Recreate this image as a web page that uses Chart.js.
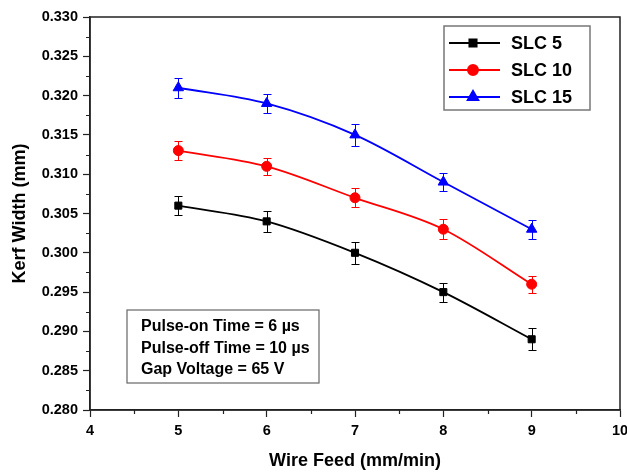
<!DOCTYPE html>
<html>
<head>
<meta charset="utf-8">
<script src="https://cdn.jsdelivr.net/npm/chart.js@4/dist/chart.umd.min.js"></script>
<style>
  html, body { margin: 0; padding: 0; background: #fff; }
  #wrap { width: 627px; height: 476px; position: relative; }
</style>
</head>
<body>
<div id="wrap"><canvas id="chart"></canvas></div>
<script>
  // ── data ──────────────────────────────────────────────
  const wireFeed = [5, 6, 7, 8, 9];
  const slc5 = [0.306, 0.304, 0.300, 0.295, 0.289];
  const slc10 = [0.313, 0.311, 0.307, 0.303, 0.296];
  const slc15 = [0.321, 0.319, 0.315, 0.309, 0.303];
  const slc5Err = [0.0012, 0.0013, 0.0014, 0.0012, 0.0014];
  const slc10Err = [0.0012, 0.0011, 0.0012, 0.0013, 0.0011];
  const slc15Err = [0.0013, 0.0012, 0.0014, 0.0011, 0.0012];
  const noteLines = ['Pulse-on Time = 6 \u00b5s', 'Pulse-off Time = 10 \u00b5s', 'Gap Voltage = 65 V'];

  const FONT = '"Liberation Sans", Arial, sans-serif';

  function series(label, values, errs, color, pointStyle, radius) {
    return {
      label,
      data: wireFeed.map((x, i) => ({ x, y: values[i] })),
      errors: errs,
      borderColor: color,
      backgroundColor: color,
      borderWidth: 1.8,
      pointStyle,
      pointRadius: radius,
      pointBorderWidth: 1,
      cubicInterpolationMode: 'monotone',
      fill: false,
    };
  }

  // ── error bars ─────────────────────────────────────────
  const errorBars = {
    id: 'errorBars',
    afterDatasetsDraw(chart) {
      const { ctx, scales: { x, y } } = chart;
      ctx.save();
      chart.data.datasets.forEach(ds => {
        ctx.strokeStyle = ds.borderColor;
        ctx.lineWidth = 1;
        ds.data.forEach((p, i) => {
          const px = Math.round(x.getPixelForValue(p.x)) + 0.5;
          const y1 = Math.round(y.getPixelForValue(p.y + ds.errors[i])) + 0.5;
          const y2 = Math.round(y.getPixelForValue(p.y - ds.errors[i])) + 0.5;
          ctx.beginPath();
          ctx.moveTo(px, y1); ctx.lineTo(px, y2);
          ctx.moveTo(px - 4, y1); ctx.lineTo(px + 4, y1);
          ctx.moveTo(px - 4, y2); ctx.lineTo(px + 4, y2);
          ctx.stroke();
        });
      });
      ctx.restore();
    },
  };

  // ── frame, minor ticks, legend and note box ────────────
  const decorations = {
    id: 'decorations',
    afterDraw(chart) {
      const { ctx, chartArea: a, scales: { x, y } } = chart;
      ctx.save();
      ctx.strokeStyle = '#222';
      ctx.lineWidth = 1.5;
      ctx.strokeRect(a.left, a.top, a.right - a.left, a.bottom - a.top);

      // minor ticks
      ctx.lineWidth = 1.2;
      ctx.beginPath();
      for (let v = 4.5; v < 10; v += 1) {
        const px = Math.round(x.getPixelForValue(v)) + 0.5;
        ctx.moveTo(px, a.bottom); ctx.lineTo(px, a.bottom + 4);
      }
      for (let v = 0.2825; v < 0.330; v += 0.005) {
        const py = Math.round(y.getPixelForValue(v)) + 0.5;
        ctx.moveTo(a.left, py); ctx.lineTo(a.left - 4, py);
      }
      ctx.stroke();

      // legend
      const lx = 444, ly = 26, lw = 146, lh = 84;
      ctx.strokeStyle = '#777';
      ctx.lineWidth = 1.5;
      ctx.strokeRect(lx, ly, lw, lh);
      ctx.font = 'bold 18px ' + FONT;
      ctx.textBaseline = 'middle';
      chart.data.datasets.forEach((ds, i) => {
        const cy = 43 + i * 27;
        ctx.strokeStyle = ds.borderColor;
        ctx.lineWidth = 2;
        ctx.beginPath(); ctx.moveTo(449, cy); ctx.lineTo(500, cy); ctx.stroke();
        Chart.helpers.drawPoint(ctx, {
          pointStyle: ds.pointStyle, radius: ds.pointRadius, borderWidth: 1,
        }, 473, cy);
        ctx.fillStyle = ds.borderColor;
        ctx.fill();
        ctx.fillStyle = '#000';
        ctx.fillText(ds.label, 511, cy + 1);
      });

      // note box
      ctx.strokeStyle = '#666';
      ctx.lineWidth = 1.2;
      ctx.strokeRect(127, 310, 192, 73);
      ctx.font = 'bold 16px ' + FONT;
      ctx.fillStyle = '#000';
      noteLines.forEach((t, i) => ctx.fillText(t, 141, 327 + i * 21.5));
      ctx.restore();
    },
  };

  new Chart(document.getElementById('chart'), {
    type: 'line',
    data: {
      datasets: [
        series('SLC 5', slc5, slc5Err, '#000000', 'rect', 5),
        series('SLC 10', slc10, slc10Err, '#ff0000', 'circle', 5),
        series('SLC 15', slc15, slc15Err, '#0000ff', 'triangle', 6),
      ],
    },
    options: {
      responsive: true,
      maintainAspectRatio: false,
      animation: false,
      layout: { padding: { top: 17, right: 6, left: 0, bottom: 0 } },
      plugins: { legend: { display: false }, tooltip: { enabled: false } },
      scales: {
        x: {
          type: 'linear', min: 4, max: 10,
          ticks: { stepSize: 1, color: '#000', font: { family: FONT, size: 14.5, weight: 'bold' }, padding: 5, maxRotation: 0 },
          grid: { drawOnChartArea: false, tickLength: 7, tickColor: '#222', tickWidth: 1.2 },
          border: { color: '#222', width: 1.5 },
          title: { display: true, text: 'Wire Feed (mm/min)', color: '#000', font: { family: FONT, size: 18, weight: 'bold' }, padding: { top: 6 } },
          afterFit(s) { s.height = 66; s.paddingLeft = 0; s.paddingRight = 0; },
        },
        y: {
          type: 'linear', min: 0.28, max: 0.33,
          ticks: {
            stepSize: 0.005, color: '#000', font: { family: FONT, size: 14.5, weight: 'bold' }, padding: 5,
            callback: v => v.toFixed(3),
          },
          grid: { drawOnChartArea: false, tickLength: 7, tickColor: '#222', tickWidth: 1.2 },
          border: { color: '#222', width: 1.5 },
          title: { display: true, text: 'Kerf Width (mm)', color: '#000', font: { family: FONT, size: 18, weight: 'bold' }, padding: { top: 9, bottom: 6 } },
          afterFit(s) { s.width = 90; s.paddingTop = 0; s.paddingBottom = 0; },
        },
      },
    },
    plugins: [errorBars, decorations],
  });
</script>
</body>
</html>
